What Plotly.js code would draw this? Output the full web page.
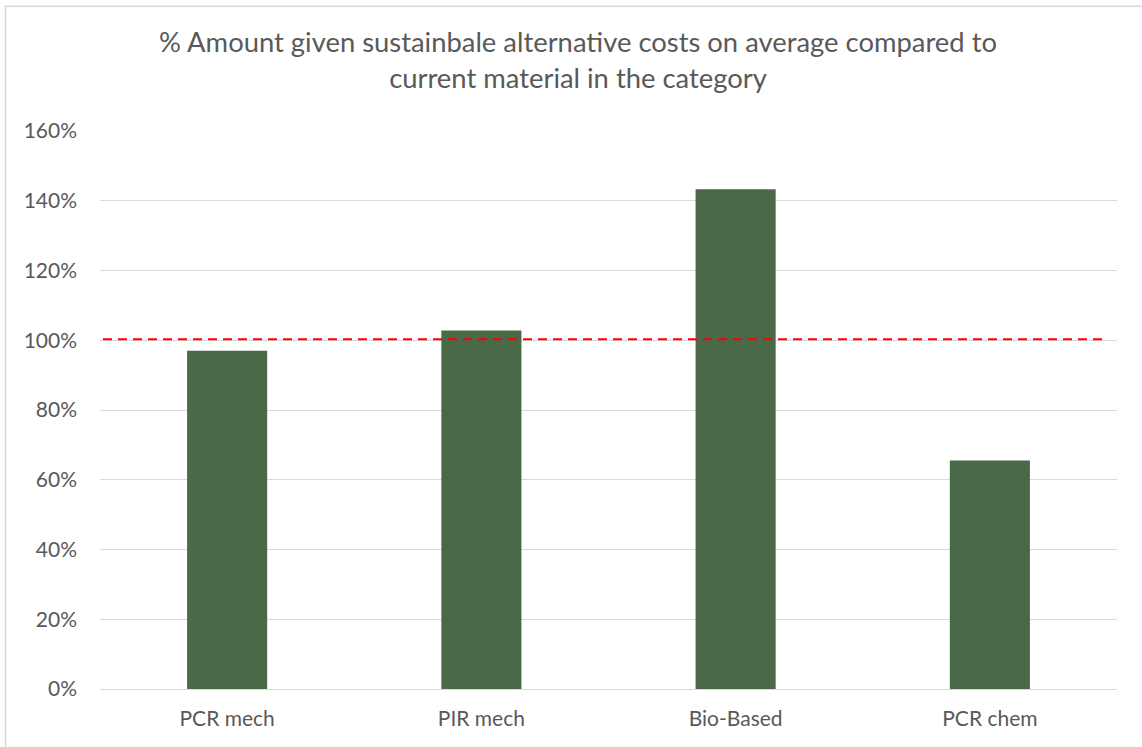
<!DOCTYPE html>
<html>
<head>
<meta charset="utf-8">
<script src="https://cdn.plot.ly/plotly-3.0.1.min.js"></script>
<style>
  html, body { margin: 0; padding: 0; background: #ffffff; }
  #chart { width: 1142px; height: 747px; }
</style>
</head>
<body>
<div id="chart"></div>
<script>
// Average cost of sustainable alternatives relative to the current material (1 = 100%)
const categories = ['PCR mech', 'PIR mech', 'Bio-Based', 'PCR chem'];
const relativeCost = [0.970, 1.028, 1.433, 0.655];
const parityLevel = 1.003;
const yTickValues = [0, 0.2, 0.4, 0.6, 0.8, 1.0, 1.2, 1.4, 1.6];

const textGrey = '#595959';
const gridGrey = '#d9d9d9';
const barGreen = '#4a6a47';
const baseFont = 'Lato, "Liberation Sans", sans-serif';

const plotLeft = 100, plotRight = 1117, width = 1142;
const plotW = plotRight - plotLeft;
const px = v => (v - plotLeft) / plotW;

const data = [{
  type: 'bar',
  x: categories,
  y: relativeCost,
  marker: { color: barGreen, line: { width: 0 } },
  hoverinfo: 'x+y'
}];

const layout = {
  width: 1142,
  height: 747,
  margin: { l: plotLeft, r: width - plotRight, t: 130.5, b: 57.5, pad: 0 },
  paper_bgcolor: '#ffffff',
  plot_bgcolor: '#ffffff',
  showlegend: false,
  bargap: 0.685,
  font: { family: baseFont, color: textGrey, size: 21 },
  title: {
    text: '% Amount given sustainbale alternative costs on average compared to<br>current material in the category',
    font: { family: baseFont, size: 27.4, color: textGrey },
    x: 578 / width,
    xanchor: 'center',
    y: 0.93,
    yanchor: 'top'
  },
  xaxis: {
    type: 'category',
    showgrid: false,
    showline: false,
    zeroline: false,
    ticks: '',
    ticklabelstandoff: 15,
    tickfont: { family: baseFont, size: 21, color: textGrey }
  },
  yaxis: {
    range: [0, 1.6],
    tickvals: yTickValues,
    tickformat: '.0%',
    showgrid: true,
    gridcolor: gridGrey,
    gridwidth: 1,
    zeroline: true,
    zerolinecolor: gridGrey,
    zerolinewidth: 1,
    showline: false,
    ticks: '',
    ticklabelstandoff: 22,
    tickfont: { family: baseFont, size: 21, color: textGrey }
  },
  shapes: [
    // chart frame (left and top edges)
    { type: 'line', xref: 'paper', yref: 'paper', x0: px(5.5), x1: px(5.5), y0: -1, y1: 1 + 125 / 559,
      line: { color: gridGrey, width: 1.5 } },
    { type: 'line', xref: 'paper', yref: 'paper', x0: px(5), x1: px(1200), y0: 1 + 125 / 559, y1: 1 + 125 / 559,
      line: { color: gridGrey, width: 1.5 } },
    // parity reference at 100%
    { type: 'line', xref: 'paper', yref: 'y', x0: px(103), x1: px(1104), y0: parityLevel, y1: parityLevel,
      line: { color: '#ff0000', width: 2, dash: '9px,6px' }, layer: 'above' }
  ]
};

Plotly.newPlot('chart', data, layout, { displayModeBar: false, staticPlot: true });
</script>
</body>
</html>
